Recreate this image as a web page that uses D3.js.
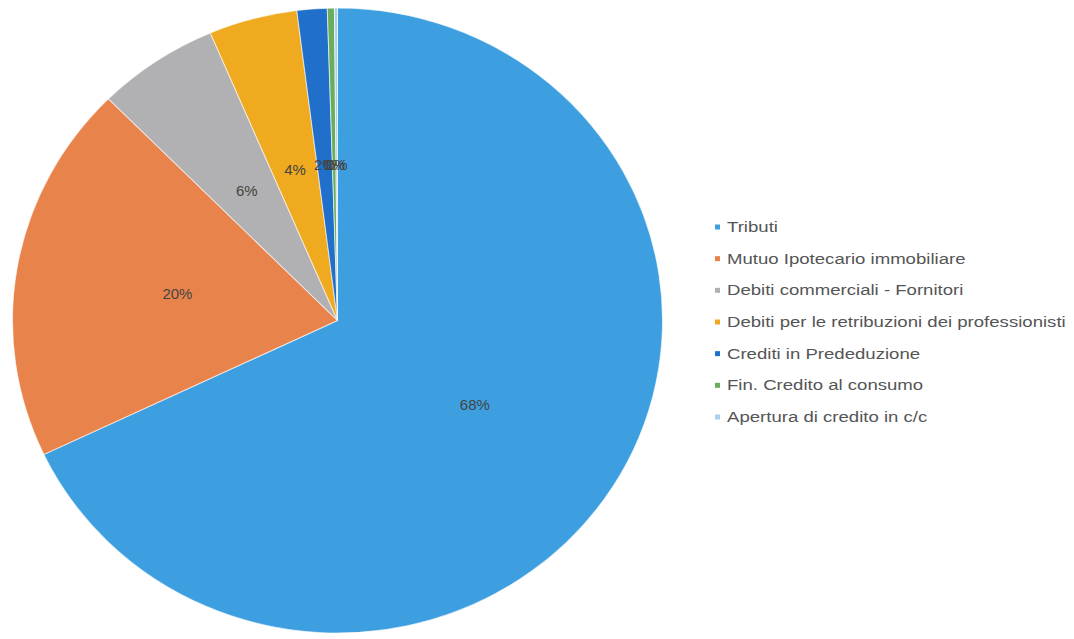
<!DOCTYPE html>
<html>
<head>
<meta charset="utf-8">
<script src="https://cdn.jsdelivr.net/npm/d3@7"></script>
<style>
  body { margin: 0; background: #fff; }
  svg { display: block; }
</style>
</head>
<body>
<div id="chart"></div>
<script>
'use strict'

// categorie e quote (%)
var categories = [
  'Tributi',
  'Mutuo Ipotecario immobiliare',
  'Debiti commerciali - Fornitori',
  'Debiti per le retribuzioni dei professionisti',
  'Crediti in Prededuzione',
  'Fin. Credito al consumo',
  'Apertura di credito in c/c'
]
var values = [67.95, 19.6, 6.05, 4.4, 1.5, 0.35, 0.15]
var labels = ['68%', '20%', '6%', '4%', '2%', '0%', '0%']
var colors = ['#3d9fe0', '#e9834c', '#b1b0b2', '#efaa1f', '#1f6fcb', '#6aae5c', '#a8d0f0']

var width = 1074
var height = 639
var cx = 337.5
var cy = 320.5
var ry = 312.5
var sx = 1.04 // the scan is a little wider than tall

var data = categories.map(function(c, i) {
  return { name: c, value: values[i], label: labels[i], color: colors[i] }
})

var svg = d3
  .select('#chart')
  .append('svg')
  .attr('width', width)
  .attr('height', height)

var pie = d3
  .pie()
  .sort(null)
  .value(function(d) {
    return d.value
  })

var arc = d3.arc().innerRadius(0).outerRadius(ry)
var labelArc = d3.arc().innerRadius(ry * 0.5).outerRadius(ry * 0.5)

var arcs = pie(data)

svg
  .append('g')
  .attr('transform', 'translate(' + cx + ',' + cy + ') scale(' + sx + ',1)')
  .selectAll('path')
  .data(arcs)
  .enter()
  .append('path')
  .attr('d', arc)
  .attr('fill', function(d) {
    return d.data.color
  })
  .attr('stroke', 'rgba(255,255,255,0.6)')
  .attr('stroke-width', 1)

// the small slices' labels overlap in the original too
svg
  .append('g')
  .attr('transform', 'translate(' + cx + ',' + cy + ')')
  .selectAll('text')
  .data(arcs)
  .enter()
  .append('text')
  .attr('x', function(d) {
    return labelArc.centroid(d)[0] * sx
  })
  .attr('y', function(d) {
    return labelArc.centroid(d)[1]
  })
  .attr('text-anchor', 'middle')
  .attr('dominant-baseline', 'central')
  .attr('font-family', 'Liberation Sans, Arial, sans-serif')
  .attr('font-size', '15px')
  .attr('fill', '#444')
  .text(function(d) {
    return d.data.label
  })

var legendY = d3
  .scalePoint()
  .domain(categories)
  .range([227, 417])

var legend = svg
  .append('g')
  .selectAll('g')
  .data(data)
  .enter()
  .append('g')
  .attr('transform', function(d) {
    return 'translate(715,' + legendY(d.name) + ')'
  })

legend
  .append('rect')
  .attr('x', 0)
  .attr('y', -2.5)
  .attr('width', 5)
  .attr('height', 5)
  .attr('fill', function(d) {
    return d.color
  })

legend
  .append('text')
  .attr('transform', 'translate(12,0) scale(1.24,1)')
  .attr('dominant-baseline', 'central')
  .attr('font-family', 'Liberation Sans, Arial, sans-serif')
  .attr('font-size', '15px')
  .attr('fill', '#555')
  .text(function(d) {
    return d.name
  })
</script>
</body>
</html>
